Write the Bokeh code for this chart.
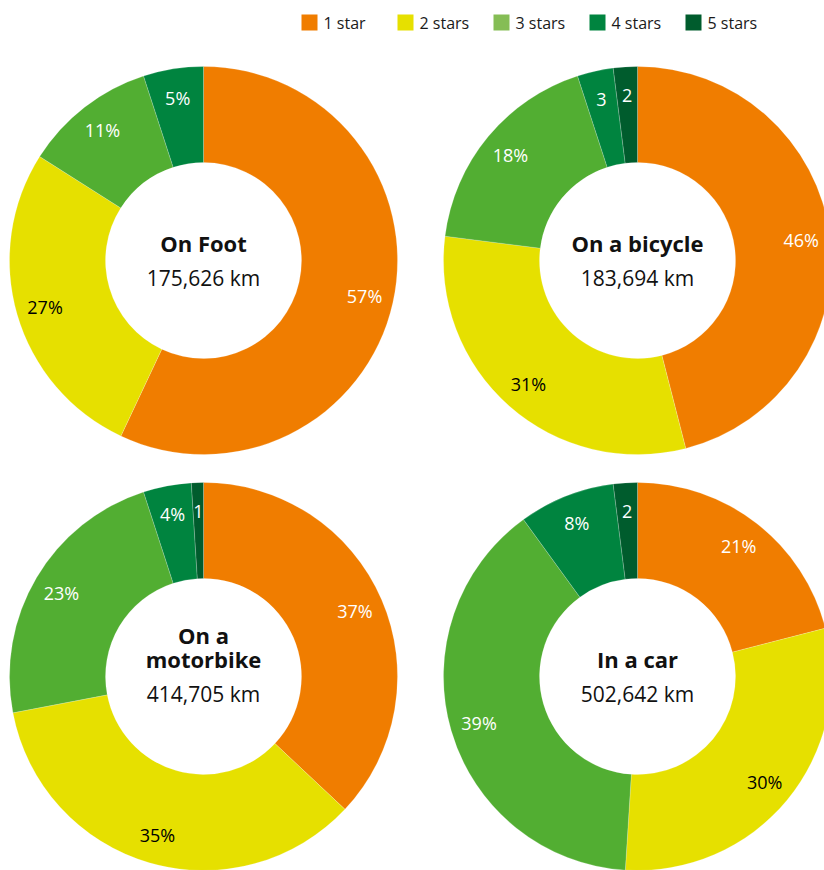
import math
from bokeh.plotting import figure
from bokeh.models import Range1d, ColumnDataSource
from bokeh.core.properties import value
from bokeh.embed import file_html
from bokeh.resources import INLINE

# ---- data ----
modes = ["On Foot", "On a bicycle", "On a motorbike", "In a car"]
mode_titles = [["On Foot"], ["On a bicycle"], ["On a", "motorbike"], ["In a car"]]
distances = ["175,626 km", "183,694 km", "414,705 km", "502,642 km"]
stars = ["1 star", "2 stars", "3 stars", "4 stars", "5 stars"]
share_foot = [57, 27, 11, 5, 0]
share_bicycle = [46, 31, 18, 3, 2]
share_motorbike = [37, 35, 23, 4, 1]
share_car = [21, 30, 39, 8, 2]
shares = [share_foot, share_bicycle, share_motorbike, share_car]

# ---- styles ----
slice_colors = ["#F07D00", "#E6E000", "#52AE32", "#00843F", "#005C2D"]
legend_colors = ["#F07D00", "#E6E000", "#85BD55", "#00843F", "#005C2D"]
label_colors = ["white", "black", "white", "white", "white"]
FONT = "Open Sans"

W, H = 824, 870
p = figure(width=W, height=H, output_backend="svg", toolbar_location=None,
           x_range=Range1d(0, W), y_range=Range1d(H, 0),
           min_border=0)
p.axis.visible = False
p.grid.visible = False
p.outline_line_color = None
p.background_fill_color = "white"
p.border_fill_color = "white"

centers = [(203, 260), (637, 260), (203, 676), (637, 676)]
R_OUT, R_IN, R_LAB = 194, 98, 165

for (cx, cy), sh, title_lines, dist in zip(centers, shares, mode_titles, distances):
    total = sum(sh)
    cum = 0.0
    xs, ys, sa, ea, cols, lx, ly, lt, lc = [], [], [], [], [], [], [], [], []
    for v, c, tc in zip(sh, slice_colors, label_colors):
        f0 = cum / total
        f1 = (cum + v) / total
        cum += v
        if v <= 0:
            continue
        xs.append(cx); ys.append(cy)
        sa.append(math.pi / 2 - f0 * 2 * math.pi)
        ea.append(math.pi / 2 - f1 * 2 * math.pi)
        cols.append(c)
        mid = (f0 + f1) / 2 * 2 * math.pi
        lx.append(cx + R_LAB * math.sin(mid))
        ly.append(cy - R_LAB * math.cos(mid))
        lt.append(f"{v}%" if v >= 4 else f"{v}")
        lc.append(tc)
    src = ColumnDataSource(dict(x=xs, y=ys, sa=sa, ea=ea, color=cols))
    p.annular_wedge(x="x", y="y", inner_radius=R_IN, outer_radius=R_OUT,
                    inner_radius_units="screen", outer_radius_units="screen",
                    start_angle="sa", end_angle="ea", direction="clock",
                    fill_color="color", line_color="white", line_width=0.5,
                    line_alpha=0.4, source=src)
    lsrc = ColumnDataSource(dict(x=lx, y=ly, t=lt, c=lc))
    p.text(x="x", y="y", text="t", text_color="c", source=lsrc,
           text_font=value(FONT), text_font_size="18px",
           text_align="center", text_baseline="middle")
    n = len(title_lines)
    ty = [cy - 18 - 24 * (n - 1 - i) for i in range(n)]
    p.text(x=[cx] * n, y=ty, text=title_lines, text_color="#111111",
           text_font=value(FONT), text_font_size="22px", text_font_style="bold",
           text_align="center", text_baseline="middle")
    p.text(x=[cx], y=[cy + 17], text=[dist], text_color="#111111",
           text_font=value(FONT), text_font_size="21px",
           text_align="center", text_baseline="middle")

# legend drawn manually: swatch + label per star category
LEG_X0, LEG_STEP, LEG_Y = 309, 96, 22
leg_x = [LEG_X0 + LEG_STEP * i for i in range(len(stars))]
p.rect(x=leg_x, y=[LEG_Y] * len(stars), width=16, height=16,
       width_units="screen", height_units="screen",
       fill_color=legend_colors, line_color=None)
p.text(x=[x + 14 for x in leg_x], y=[LEG_Y] * len(stars), text=stars,
       text_color="#1a1a1a", text_font=value(FONT), text_font_size="16px",
       text_align="left", text_baseline="middle")

open("out.html", "w").write(file_html(p, INLINE))
